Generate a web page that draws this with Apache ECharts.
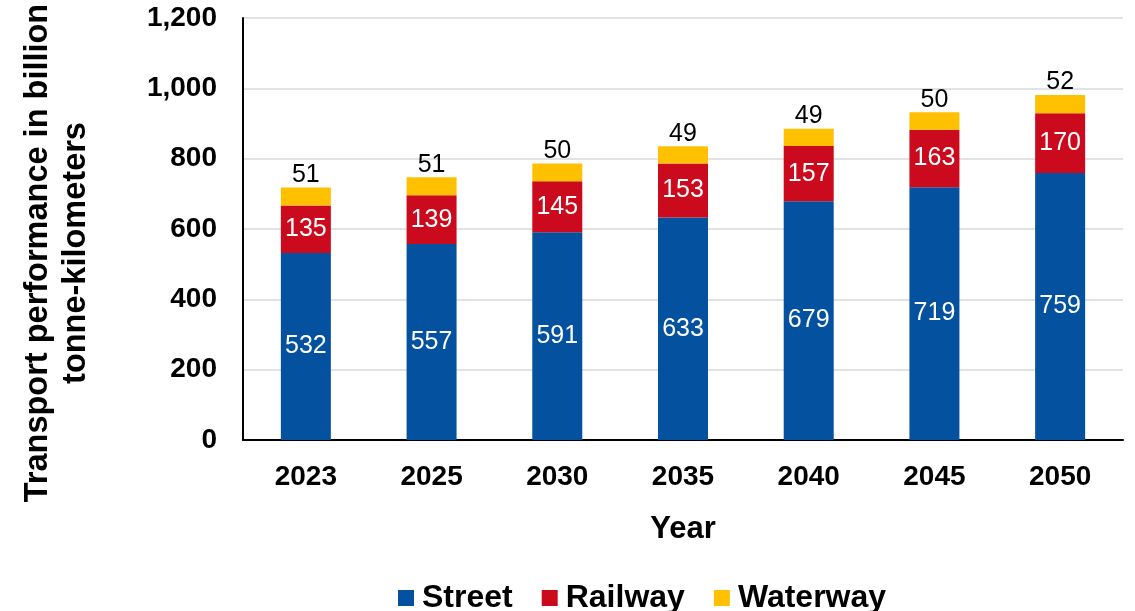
<!DOCTYPE html>
<html>
<head>
<meta charset="utf-8">
<script src="https://cdn.jsdelivr.net/npm/echarts@6/dist/echarts.min.js"></script>
<style>
  html, body { margin: 0; padding: 0; background: #fff; }
  #chart { width: 1135px; height: 611px; }
</style>
</head>
<body>
<div id="chart"></div>
<script>
// Freight transport performance by mode (billion tonne-kilometers)
const years = ['2023', '2025', '2030', '2035', '2040', '2045', '2050'];
const street = [532, 557, 591, 633, 679, 719, 759];
const railway = [135, 139, 145, 153, 157, 163, 170];
const waterway = [51, 51, 50, 49, 49, 50, 52];

const FONT = '"Liberation Sans", Arial, sans-serif';
const COLORS = { street: '#03519F', railway: '#CC0A1E', waterway: '#FFC000' };

const chart = echarts.init(document.getElementById('chart'), null, { renderer: 'canvas' });

function barSeries(name, data, color, label) {
  return {
    name: name,
    type: 'bar',
    stack: 'total',
    data: data,
    barWidth: 50,
    itemStyle: { color: color },
    label: Object.assign({
      show: true,
      fontFamily: FONT,
      fontSize: 25,
      color: '#fff'
    }, label),
    emphasis: { disabled: true }
  };
}

chart.setOption({
  animation: false,
  textStyle: { fontFamily: FONT },
  grid: { left: 243, right: 12, top: 18, bottom: 171, containLabel: false, outerBoundsMode: 'none' },
  legend: {
    left: 393,
    top: 577,
    itemWidth: 16,
    itemHeight: 16,
    itemGap: 29,
    icon: 'rect',
    textStyle: {
      fontFamily: FONT, fontSize: 32, fontWeight: 'bold', color: '#000',
      padding: [0, 0, 0, 3]
    },
    data: ['Street', 'Railway', 'Waterway']
  },
  xAxis: {
    type: 'category',
    data: years,
    name: 'Year',
    nameLocation: 'middle',
    nameGap: 74,
    nameTextStyle: { fontFamily: FONT, fontSize: 31, fontWeight: 'bold', color: '#000', verticalAlign: 'top' },
    axisLine: { lineStyle: { color: '#000', width: 2 } },
    axisTick: { show: false },
    axisLabel: { fontFamily: FONT, fontSize: 28, fontWeight: 'bold', color: '#000', margin: 23 }
  },
  yAxis: {
    type: 'value',
    min: 0,
    max: 1200,
    interval: 200,
    name: 'Transport performance in billion\ntonne-kilometers',
    nameLocation: 'middle',
    nameGap: 148,
    nameTextStyle: {
      fontFamily: FONT, fontSize: 32.5, fontWeight: 'bold', color: '#000',
      lineHeight: 38, align: 'center', padding: [0, 48, 0, 0]
    },
    axisLine: { show: true, lineStyle: { color: '#000', width: 2 } },
    axisTick: { show: false },
    splitLine: { lineStyle: { color: '#D9D9D9', width: 1.5 } },
    axisLabel: {
      fontFamily: FONT, fontSize: 28, fontWeight: 'bold', color: '#000', margin: 26,
      formatter: v => v.toLocaleString('en-US')
    }
  },
  series: [
    barSeries('Street', street, COLORS.street, { position: 'inside' }),
    barSeries('Railway', railway, COLORS.railway, { position: 'inside' }),
    barSeries('Waterway', waterway, COLORS.waterway, { position: 'top', color: '#000', distance: 0 })
  ]
});
</script>
</body>
</html>
